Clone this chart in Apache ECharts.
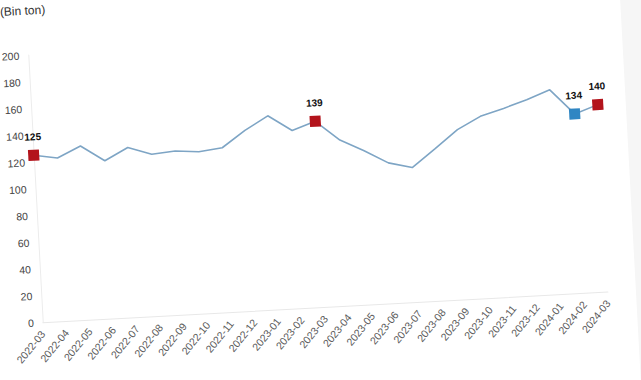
<!DOCTYPE html>
<html>
<head>
<meta charset="utf-8">
<script src="https://cdn.jsdelivr.net/npm/echarts@6/dist/echarts.min.js"></script>
<style>
  html, body { margin: 0; padding: 0; width: 641px; height: 380px; overflow: hidden; background: #ffffff; }
  #chart { position: absolute; left: -20px; top: -30px; width: 681px; height: 440px; transform: rotate(-3.1deg); transform-origin: 50% 50%; }
</style>
</head>
<body>
<div id="chart"></div>
<script>
const categories = ['2022-03','2022-04','2022-05','2022-06','2022-07','2022-08','2022-09','2022-10','2022-11','2022-12',
  '2023-01','2023-02','2023-03','2023-04','2023-05','2023-06','2023-07','2023-08','2023-09','2023-10','2023-11','2023-12',
  '2024-01','2024-02','2024-03'];
const values = [125, 122, 130, 118, 127, 121, 122.5, 121, 123, 135,
  145, 133, 139, 124, 115, 105, 100.5, 113.5, 127, 136, 141, 146.5,
  153, 134, 140];
const markedIndex = [0, 12, 23, 24];
const markedColor = ['#b3141c', '#b3141c', '#2f86c3', '#b3141c'];
const yTicks = { min: 0, max: 200, interval: 20 };
const unitLabel = '(Bin ton)';

const FONT = '"Liberation Sans", Arial, sans-serif';
const seriesData = values.map(function (v, i) {
  const k = markedIndex.indexOf(i);
  if (k < 0) return { value: v, symbol: 'none' };
  return {
    value: v,
    symbol: 'rect',
    symbolSize: 11,
    itemStyle: { color: markedColor[k] },
    label: {
      show: true, position: 'top', distance: 8,
      formatter: '{c}', fontFamily: FONT, fontWeight: 'bold', fontSize: 10, color: '#111'
    }
  };
});

const chart = echarts.init(document.getElementById('chart'), null, { renderer: 'svg' });
chart.setOption({
  animation: false,
  backgroundColor: '#ffffff',
  graphic: [{
    type: 'rect', left: 650, top: 0, shape: { width: 40, height: 440 },
    style: { fill: '#f6f6f6' }, silent: true, z: -10
  }],
  title: {
    text: unitLabel, left: 25, top: 14,
    textStyle: { fontFamily: FONT, fontSize: 12, fontWeight: 'normal', color: '#333' }
  },
  grid: { left: 56, right: 59, top: 69.5, bottom: 103 },
  xAxis: {
    type: 'category', data: categories, boundaryGap: false,
    axisLine: { show: true, lineStyle: { color: '#e8e8e8', width: 1 } },
    axisTick: { show: false },
    axisLabel: { interval: 0, rotate: 48, margin: 10, fontFamily: FONT, fontSize: 10.5, color: '#5a5a5a' },
    splitLine: { show: false }
  },
  yAxis: {
    type: 'value', min: yTicks.min, max: yTicks.max, interval: yTicks.interval,
    axisLine: { show: true, lineStyle: { color: '#ececec', width: 1 } },
    axisTick: { show: false },
    axisLabel: { fontFamily: FONT, fontSize: 10.5, color: '#444', margin: 9 },
    splitLine: { show: false }
  },
  series: [{
    type: 'line',
    data: seriesData,
    showSymbol: true,
    lineStyle: { color: '#7ea5c5', width: 1.6 },
    itemStyle: { color: '#7ea5c5' },
    z: 2
  }]
});
</script>
</body>
</html>
